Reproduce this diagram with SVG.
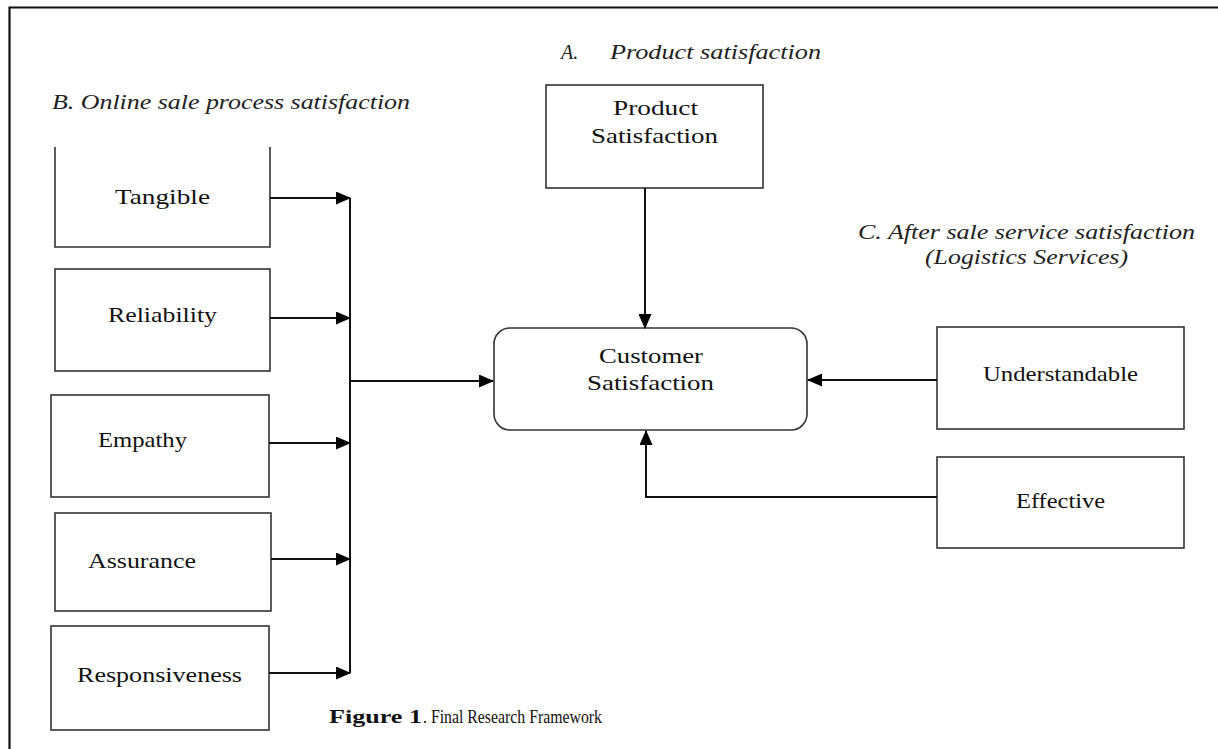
<svg xmlns="http://www.w3.org/2000/svg" width="1218" height="749" viewBox="0 0 1218 749">
<style>
.box{fill:#fff;stroke:#333;stroke-width:1.6}
.t{font-family:"Liberation Serif",serif;font-size:22px;fill:#111}
.it{font-family:"Liberation Serif",serif;font-size:20px;font-style:italic;fill:#222}
.cap{font-family:"Liberation Serif",serif;font-size:18px;fill:#111}
.con{fill:none;stroke:#111;stroke-width:2}
.frame{fill:none;stroke:#111;stroke-width:2.2}
</style>
<defs>
<marker id="arr" markerUnits="userSpaceOnUse" markerWidth="15" markerHeight="13" refX="14" refY="6.5" orient="auto">
<path d="M0,0 L15,6.5 L0,13 Z" fill="#000"/>
</marker>
</defs>
<rect width="1218" height="749" fill="#fff"/>
<path class="frame" d="M9.5,749 V7.5 H1218"/>
<text class="it" x="52" y="109" textLength="358" lengthAdjust="spacingAndGlyphs">B. Online sale process satisfaction</text>
<text class="it" x="561" y="59">A.</text>
<text class="it" x="610" y="59" textLength="211" lengthAdjust="spacingAndGlyphs">Product satisfaction</text>
<text class="it" x="858" y="239" textLength="337" lengthAdjust="spacingAndGlyphs">C. After sale service satisfaction</text>
<text class="it" x="925" y="264" textLength="203" lengthAdjust="spacingAndGlyphs">(Logistics Services)</text>
<g id="tangible">
<path class="box" d="M55,147 V247 H270 V147"/>
<text class="t" x="115" y="204" textLength="95" lengthAdjust="spacingAndGlyphs">Tangible</text>
</g>
<g id="reliability">
<rect class="box" x="55" y="269" width="215" height="102"/>
<text class="t" x="108" y="322" textLength="109" lengthAdjust="spacingAndGlyphs">Reliability</text>
</g>
<g id="empathy">
<rect class="box" x="51" y="395" width="218" height="102"/>
<text class="t" x="98" y="447" textLength="89" lengthAdjust="spacingAndGlyphs">Empathy</text>
</g>
<g id="assurance">
<rect class="box" x="55" y="513" width="216" height="98"/>
<text class="t" x="88" y="568" textLength="108" lengthAdjust="spacingAndGlyphs">Assurance</text>
</g>
<g id="responsiveness">
<rect class="box" x="51" y="626" width="218" height="104"/>
<text class="t" x="77" y="682" textLength="165" lengthAdjust="spacingAndGlyphs">Responsiveness</text>
</g>
<g id="product">
<rect class="box" x="546" y="85" width="217" height="103"/>
<text class="t" x="613" y="115" textLength="85" lengthAdjust="spacingAndGlyphs">Product</text>
<text class="t" x="591" y="143" textLength="127" lengthAdjust="spacingAndGlyphs">Satisfaction</text>
</g>
<g id="customer">
<rect class="box" x="494" y="328" width="313" height="102" rx="16" ry="16"/>
<text class="t" x="599" y="363" textLength="104" lengthAdjust="spacingAndGlyphs">Customer</text>
<text class="t" x="587" y="390" textLength="127" lengthAdjust="spacingAndGlyphs">Satisfaction</text>
</g>
<g id="understandable">
<rect class="box" x="937" y="327" width="247" height="102"/>
<text class="t" x="983" y="381" textLength="155" lengthAdjust="spacingAndGlyphs">Understandable</text>
</g>
<g id="effective">
<rect class="box" x="937" y="457" width="247" height="91"/>
<text class="t" x="1016" y="508" textLength="89" lengthAdjust="spacingAndGlyphs">Effective</text>
</g>
<g id="connectors">
<path class="con" d="M270,198 H350" marker-end="url(#arr)"/>
<path class="con" d="M270,318 H350" marker-end="url(#arr)"/>
<path class="con" d="M269,443 H350" marker-end="url(#arr)"/>
<path class="con" d="M271,559 H350" marker-end="url(#arr)"/>
<path class="con" d="M269,673 H350" marker-end="url(#arr)"/>
<path class="con" d="M350,198 V673"/>
<path class="con" d="M350,381 H493" marker-end="url(#arr)"/>
<path class="con" d="M645,188 V328" marker-end="url(#arr)"/>
<path class="con" d="M937,380 H808" marker-end="url(#arr)"/>
<path class="con" d="M937,497 H646 V431" marker-end="url(#arr)"/>
</g>
<g id="caption">
<text class="cap" x="329" y="723" font-weight="bold" font-size="19" textLength="93" lengthAdjust="spacingAndGlyphs">Figure 1</text>
<text class="cap" x="423" y="723" textLength="179" lengthAdjust="spacingAndGlyphs">. Final Research Framework</text>
</g>
</svg>
